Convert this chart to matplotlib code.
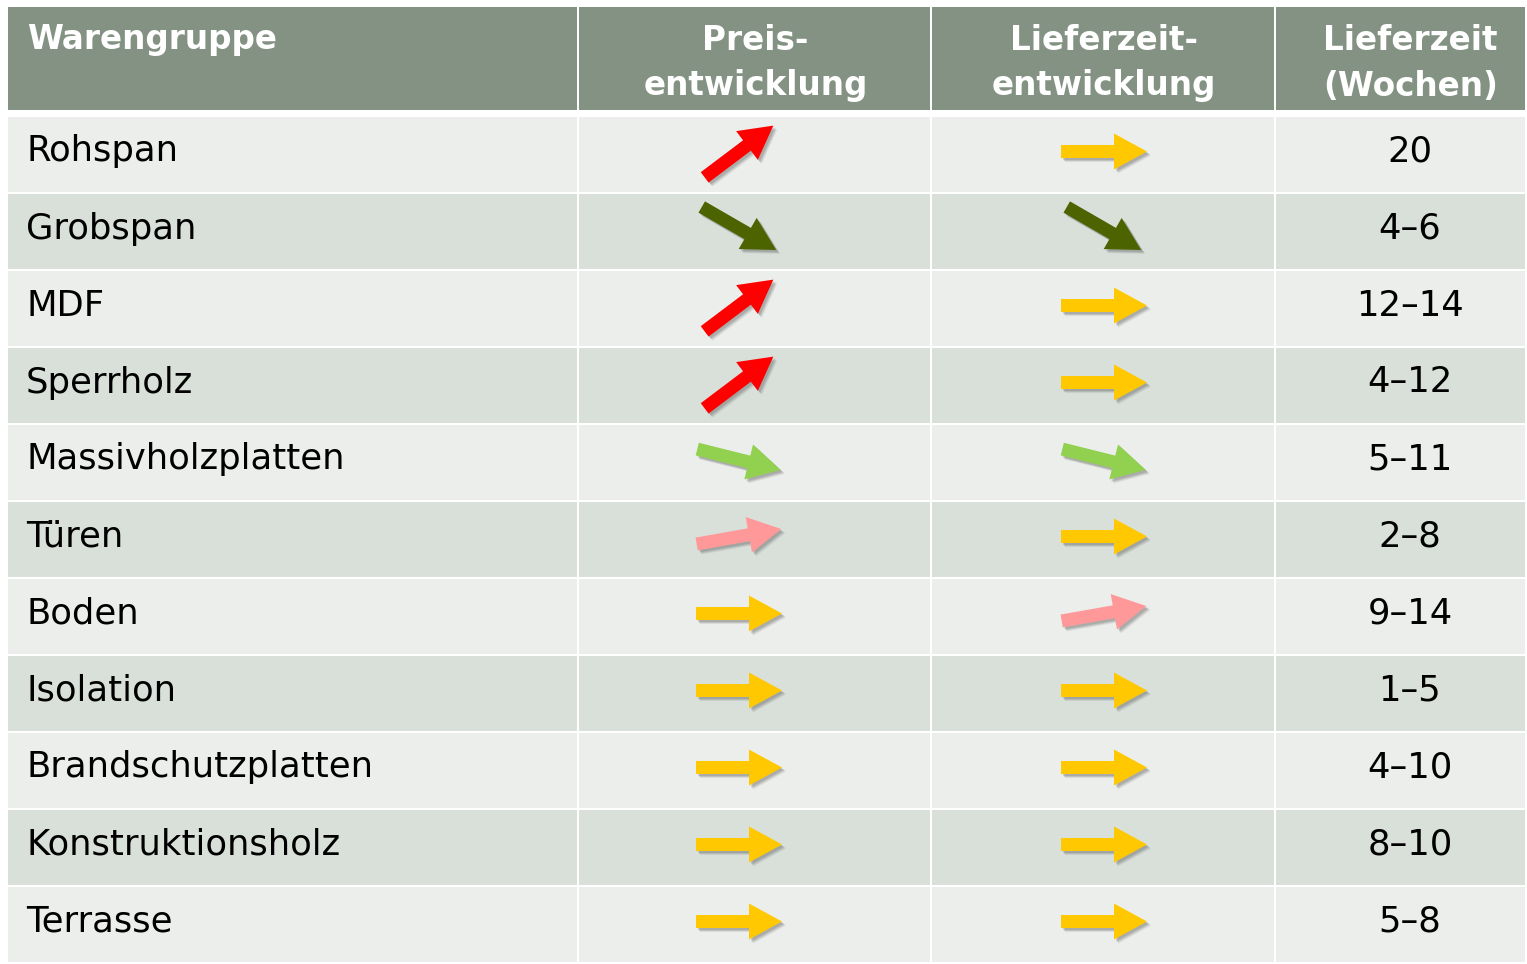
import numpy as np
import matplotlib.pyplot as plt
from matplotlib.patches import Rectangle, FancyArrow

# ======= Daten =======
warengruppen = ["Rohspan", "Grobspan", "MDF", "Sperrholz", "Massivholzplatten", "Türen",
                "Boden", "Isolation", "Brandschutzplatten", "Konstruktionsholz", "Terrasse"]
# Trend: 2 = stark steigend, 1 = leicht steigend, 0 = gleich, -1 = leicht sinkend, -2 = sinkend
preis_trend = [2, -2, 2, 2, -1, 1, 0, 0, 0, 0, 0]
liefer_trend = [0, -2, 0, 0, -1, 0, 1, 0, 0, 0, 0]
lieferzeit_wochen = ["20", "4–6", "12–14", "4–12", "5–11", "2–8", "9–14", "1–5", "4–10", "8–10", "5–8"]
header = ["Warengruppe", "Preis-\nentwicklung", "Lieferzeit-\nentwicklung", "Lieferzeit\n(Wochen)"]

trend_color = {2: "#ff0000", 1: "#ff9999", 0: "#ffc800", -1: "#92d050", -2: "#4b6400"}
trend_angle = {2: 37, 1: 10, 0: 0, -1: -14, -2: -30}

W, H = 1527, 964
col_edges = [8, 579, 932, 1276, 1527]
head_top, head_bot = 7, 110
row_top = 117
row_h = (H - row_top) / len(warengruppen)

fig = plt.figure(figsize=(W / 100, H / 100), dpi=100)
ax = fig.add_axes([0, 0, 1, 1])
ax.set_xlim(0, W)
ax.set_ylim(H, 0)
ax.axis("off")

# header
for c in range(4):
    x0, x1 = col_edges[c], col_edges[c + 1]
    ax.add_patch(Rectangle((x0, head_top), x1 - x0 - 2, head_bot - head_top, color="#839283", lw=0))
    if c == 0:
        ax.text(x0 + 19, 40, header[c], color="white", fontsize=23.5, fontweight="bold",
                ha="left", va="center")
    else:
        cx = (x0 + x1) / 2 + (9 if c == 3 else 0)
        ax.text(cx, 63, header[c], color="white", fontsize=23.5, fontweight="bold",
                ha="center", va="center", linespacing=1.5)


def draw_arrow(cx, cy, trend):
    ang = np.deg2rad(trend_angle[trend])
    L = 86
    dx, dy = L * np.cos(ang), -L * np.sin(ang)
    x0, y0 = cx - dx / 2, cy - dy / 2
    kw = dict(width=13, head_width=36, head_length=33, length_includes_head=True, lw=0)
    # Schatten
    for off, a in [(4, 0.12), (3, 0.18), (2, 0.2)]:
        ax.add_patch(FancyArrow(x0 + off, y0 + off, dx, dy, color="#555555", alpha=a, **kw))
    ax.add_patch(FancyArrow(x0, y0, dx, dy, color=trend_color[trend], **kw))


for i, name in enumerate(warengruppen):
    y0 = row_top + i * row_h
    bg = "#eceeeb" if i % 2 == 0 else "#d9e0da"
    for c in range(4):
        x0, x1 = col_edges[c], col_edges[c + 1]
        ax.add_patch(Rectangle((x0, y0), x1 - x0 - 2, row_h - 2, color=bg, lw=0))
    cy = y0 + row_h / 2 - 4
    ax.text(26, cy, name, fontsize=25.5, color="black", ha="left", va="center")
    draw_arrow(739, cy, preis_trend[i])
    draw_arrow(1104, cy, liefer_trend[i])
    ax.text(1410, cy, lieferzeit_wochen[i], fontsize=25.5,
            color="black", ha="center", va="center")

fig.savefig("out.png", dpi=100, facecolor="white")
